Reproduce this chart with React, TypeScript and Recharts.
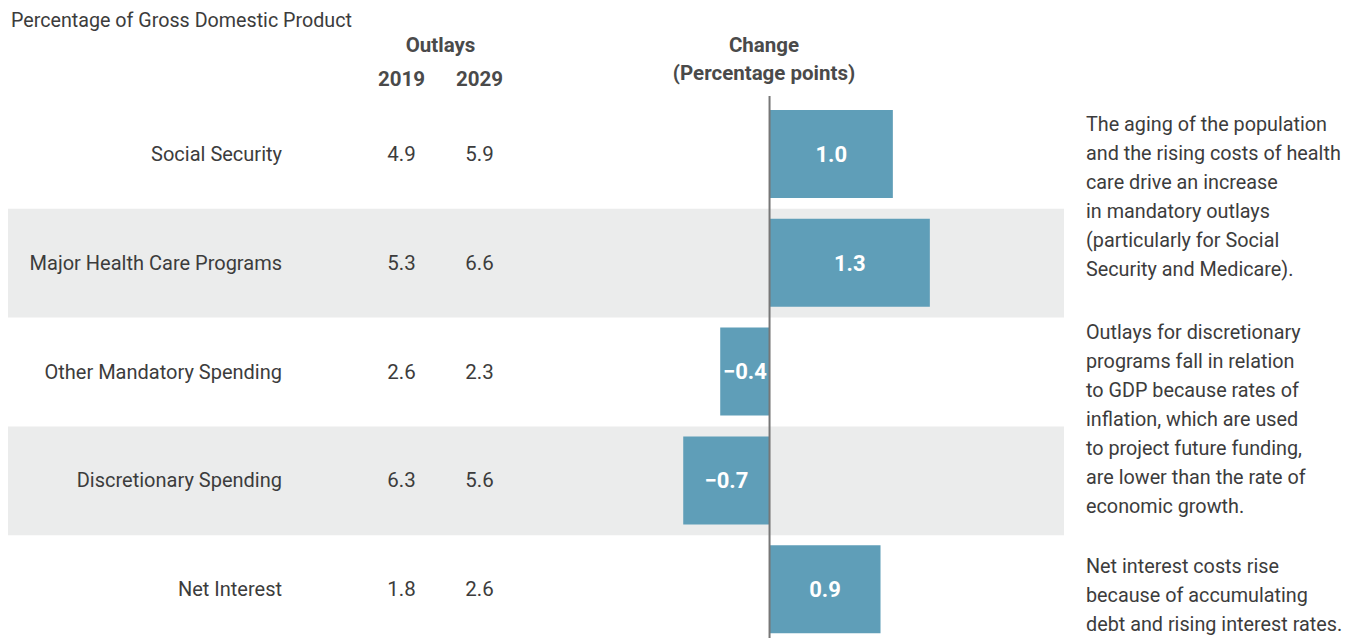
import { BarChart, Bar, XAxis, YAxis, ReferenceArea, ReferenceLine, LabelList } from 'recharts';

const categories = [
  'Social Security',
  'Major Health Care Programs',
  'Other Mandatory Spending',
  'Discretionary Spending',
  'Net Interest',
];
const outlays2019 = [4.9, 5.3, 2.6, 6.3, 1.8];
const outlays2029 = [5.9, 6.6, 2.3, 5.6, 2.6];
const change = [1.0, 1.3, -0.4, -0.7, 0.9];
const shadedRows = ['Major Health Care Programs', 'Discretionary Spending'];

const notes = [
  [
    'The aging of the population',
    'and the rising costs of health',
    'care drive an increase',
    'in mandatory outlays',
    '(particularly for Social',
    'Security and Medicare).',
  ],
  [
    'Outlays for discretionary',
    'programs fall in relation',
    'to GDP because rates of',
    'inflation, which are used',
    'to project future funding,',
    'are lower than the rate of',
    'economic growth.',
  ],
  ['Net interest costs rise', 'because of accumulating', 'debt and rising interest rates.'],
];

const rows = categories.map((name, i) => ({
  name,
  y2019: outlays2019[i],
  y2029: outlays2029[i],
  change: change[i],
}));

const FONT = 'Roboto, "Noto Sans", sans-serif';
const TEXT = '#3c3c3c';
const HEAD = '#4a4a4a';
const BAR = '#5f9eb8';
const BAND = '#ebecec';

const fmtChange = (v: number) => (v < 0 ? '\u2212' + Math.abs(v).toFixed(1) : v.toFixed(1));

// row label + the two outlay columns, drawn at each category tick
const RowTick = (props: any) => {
  const { y, payload, index } = props;
  const r = rows.find((d) => d.name === payload.value) ?? rows[index];
  return (
    <g fontFamily={FONT} fill={TEXT}>
      <text x={282} y={y + 6.5} fontSize={20} textAnchor="end">{payload.value}</text>
      <text x={401.5} y={y + 6.5} fontSize={20.5} textAnchor="middle">{r ? r.y2019.toFixed(1) : ''}</text>
      <text x={479.5} y={y + 6.5} fontSize={20.5} textAnchor="middle">{r ? r.y2029.toFixed(1) : ''}</text>
    </g>
  );
};

const noteStarts = [130.5, 338.5, 572.5];

export default function App() {
  return (
    <div style={{ position: 'absolute', left: 0, top: 0, width: 1356, height: 638, overflow: 'hidden', background: '#fff' }}>
      <BarChart
        width={1356}
        height={644}
        data={rows}
        layout="vertical"
        margin={{ top: 96, right: 292, bottom: 0, left: 8 }}
        barSize={88}
      >
        <XAxis type="number" hide domain={[-6.176, 2.388]} allowDataOverflow />
        <YAxis
          type="category"
          dataKey="name"
          width={300}
          mirror
          axisLine={false}
          tickLine={false}
          padding={{ top: 4, bottom: 0 }}
          tick={(p: any) => <RowTick {...p} />}
          interval={0}
        />
        {shadedRows.map((c) => (
          <ReferenceArea key={c} y1={c} y2={c} fill={BAND} fillOpacity={1} stroke="none" ifOverflow="visible" />
        ))}
        <Bar dataKey="change" fill={BAR} isAnimationActive={false}>
          <LabelList
            dataKey="change"
            position="center"
            formatter={(v: any) => fmtChange(Number(v))}
            fill="#fff"
            fontSize={22}
            fontWeight="bold"
            fontFamily={FONT}
          />
        </Bar>
        <ReferenceLine x={0} stroke="#777" strokeWidth={2} ifOverflow="visible" />
      </BarChart>
      <svg width={1356} height={638} style={{ position: 'absolute', left: 0, top: 0, pointerEvents: 'none' }}>
        <text x={11} y={26.5} fontFamily={FONT} fontSize={19.7} fill={TEXT}>Percentage of Gross Domestic Product</text>
        <g fontFamily={FONT} fontSize={20.5} fontWeight="bold" fill={HEAD} textAnchor="middle">
          <text x={440.5} y={52}>Outlays</text>
          <text x={401.5} y={85.5}>2019</text>
          <text x={479.5} y={85.5}>2029</text>
          <text x={764} y={52}>Change</text>
          <text x={764} y={80}>(Percentage points)</text>
        </g>
        <g fontFamily={FONT} fontSize={19.8} fill={TEXT}>
          {notes.map((para, p) =>
            para.map((line, i) => (
              <text key={p + '-' + i} x={1086} y={noteStarts[p] + i * 29}>{line}</text>
            ))
          )}
        </g>
      </svg>
    </div>
  );
}
